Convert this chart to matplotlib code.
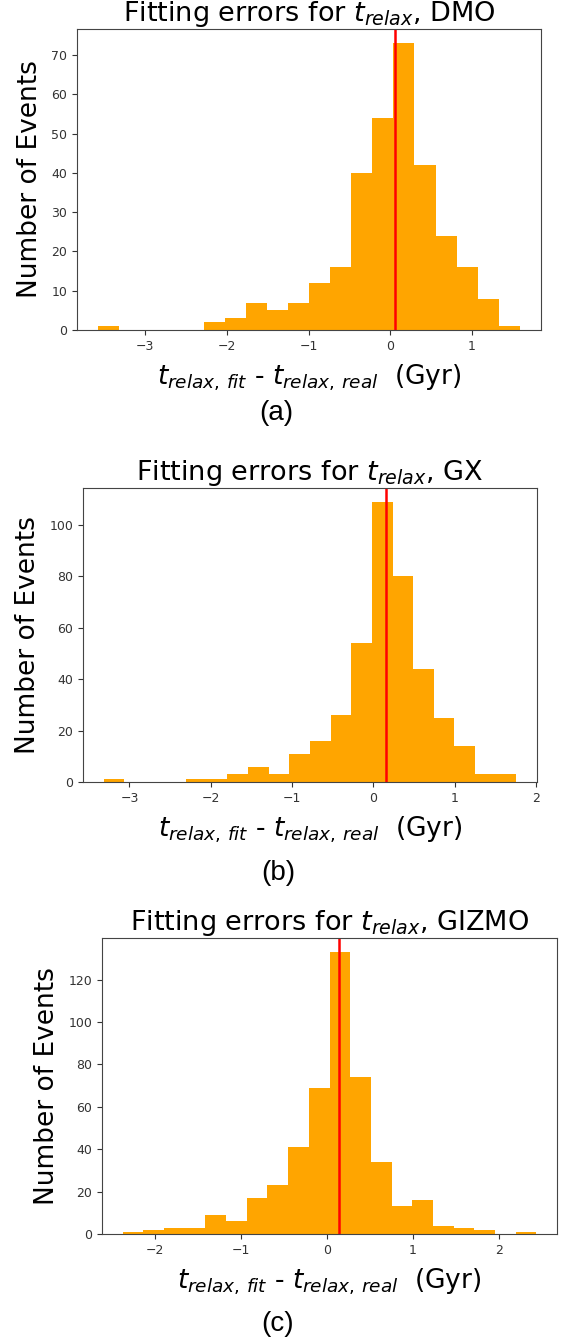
import numpy as np
import matplotlib
matplotlib.use('Agg')
import matplotlib.pyplot as plt

# histogram counts (20 bins each)
counts_dmo = [1, 0, 0, 0, 0, 2, 3, 7, 5, 7, 12, 16, 40, 54, 73, 42, 24, 16, 8, 1]
counts_gx = [1, 0, 0, 0, 1, 1, 3, 6, 3, 11, 16, 26, 54, 109, 80, 44, 25, 14, 3, 3]
counts_gizmo = [1, 2, 3, 3, 9, 6, 17, 23, 41, 69, 133, 74, 34, 13, 16, 4, 3, 2, 0, 1]

# bin range (Gyr) and the red marker position
range_dmo = (-3.577, 1.585)
range_gx = (-3.317, 1.759)
range_gizmo = (-2.374, 2.436)
mark_dmo, mark_gx, mark_gizmo = 0.06, 0.156, 0.14

names = ['DMO', 'GX', 'GIZMO']
captions = ['(a)', '(b)', '(c)']

W, H = 565, 1340
fig = plt.figure(figsize=(W/100, H/100), dpi=100)

# axes boxes in pixels: left, right, top, bottom
boxes = [(77, 541, 29, 330), (83, 537, 488, 782), (102, 557, 938, 1234)]
cap_xy = [(276, 413), (278, 873), (278, 1324)]

panels = [(counts_dmo, range_dmo, mark_dmo),
          (counts_gx, range_gx, mark_gx),
          (counts_gizmo, range_gizmo, mark_gizmo)]

for i, (counts, rng, mark) in enumerate(panels):
    l, r, t, b = boxes[i]
    ax = fig.add_axes([l/W, 1 - b/H, (r - l)/W, (b - t)/H])
    edges = np.linspace(rng[0], rng[1], len(counts) + 1)
    ax.hist(edges[:-1], bins=edges, weights=counts, color='orange')
    ax.axvline(mark, color='red', lw=1.8)
    ax.set_title('Fitting errors for $t_{relax}$, ' + names[i], fontsize=19.5, pad=2)
    ax.set_ylabel('Number of Events', fontsize=19, labelpad=6)
    ax.set_xlabel(r'$t_{relax,\,fit}$ - $t_{relax,\,real}$  (Gyr)', fontsize=19, labelpad=7)
    ax.tick_params(labelsize=9, colors='#333333')
    for s in ax.spines.values():
        s.set_color('#444444')
    fig.text(cap_xy[i][0]/W, 1 - cap_xy[i][1]/H, captions[i], ha='center', va='center',
             fontsize=20, family='Liberation Sans')

fig.savefig('out.png', dpi=100)
